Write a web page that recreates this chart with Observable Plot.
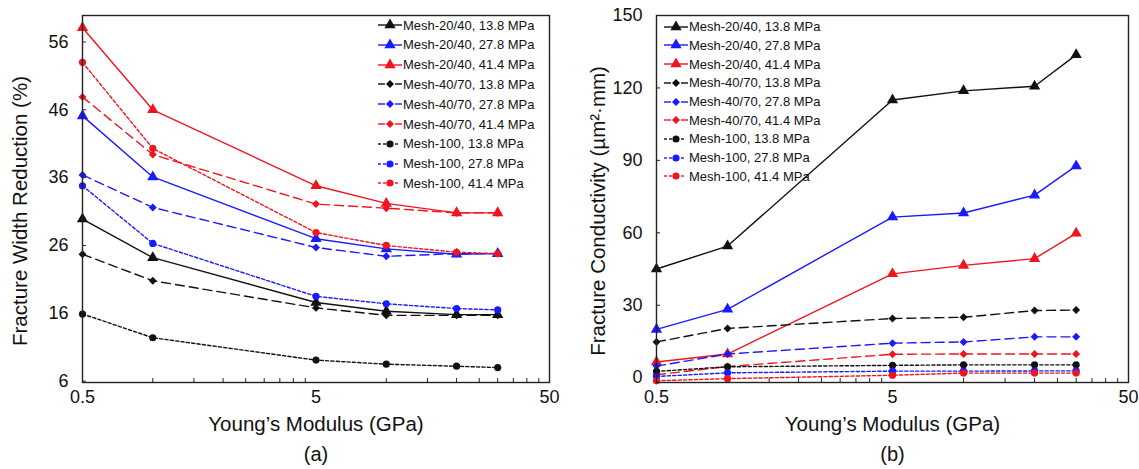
<!DOCTYPE html>
<html><head><meta charset="utf-8">
<script src="https://cdn.jsdelivr.net/npm/d3@7"></script>
<script src="https://cdn.jsdelivr.net/npm/@observablehq/plot@0.6"></script>
<style>
body{margin:0;background:#fff;font-family:"Liberation Sans",Arial,sans-serif;}
#wrap{position:relative;width:1139px;height:469px;overflow:hidden;background:#fff;}
.panel{position:absolute;top:0;}
.legend{position:absolute;top:0;font-size:13px;color:#111;font-family:"Liberation Sans",Arial,sans-serif;}
.legend .row{position:absolute;left:0;white-space:nowrap;display:flex;align-items:center;height:16px;transform:translateY(-50%);}
.legend svg{display:block;overflow:visible;}
</style></head><body><div id="wrap"></div>
<script>
// ---- data ----
const modulus = [0.5, 1, 5, 10, 20, 30]; // GPa
const seriesLabels = [
  "Mesh-20/40, 13.8 MPa", "Mesh-20/40, 27.8 MPa", "Mesh-20/40, 41.4 MPa",
  "Mesh-40/70, 13.8 MPa", "Mesh-40/70, 27.8 MPa", "Mesh-40/70, 41.4 MPa",
  "Mesh-100, 13.8 MPa", "Mesh-100, 27.8 MPa", "Mesh-100, 41.4 MPa"
];
// (a) Fracture width reduction (%)
const width2040_138 = [29.9, 24.2, 17.6, 16.3, 15.8, 15.8];
const width2040_278 = [45.1, 36.1, 27.0, 25.5, 24.7, 24.8];
const width2040_414 = [58.1, 46.0, 34.8, 32.2, 30.8, 30.8];
const width4070_138 = [24.7, 20.8, 16.8, 15.7, 15.7, 15.7];
const width4070_278 = [36.4, 31.6, 25.7, 24.4, 24.8, 24.8];
const width4070_414 = [47.9, 39.4, 32.1, 31.5, 30.8, 30.8];
const width100_138 = [15.9, 12.4, 9.1, 8.5, 8.2, 8.0];
const width100_278 = [34.8, 26.3, 18.5, 17.4, 16.7, 16.5];
const width100_414 = [53.0, 40.3, 27.9, 26.0, 25.0, 24.8];
// (b) Fracture conductivity (µm²·mm)
const cond2040_138 = [45, 54.5, 115, 118.8, 120.7, 133.7];
const cond2040_278 = [20, 28.3, 66.5, 68.2, 75.6, 87.7];
const cond2040_414 = [6.5, 9.8, 43, 46.5, 49.3, 59.8];
const cond4070_138 = [14.8, 20.4, 24.5, 25, 27.8, 28];
const cond4070_278 = [4.8, 9.8, 14.3, 14.8, 16.9, 16.9];
const cond4070_414 = [1.2, 4.6, 9.7, 9.8, 9.8, 9.8];
const cond100_138 = [2.6, 4.5, 5.1, 5.3, 5.3, 5.3];
const cond100_278 = [0.5, 2.0, 2.7, 2.7, 2.8, 2.8];
const cond100_414 = [-1.3, -0.4, 1.0, 1.9, 1.9, 1.9];

const xTickLabels = [0.5, 5, 50];
const xMinorTicks = [1, 1.5, 2, 2.5, 3, 3.5, 4, 4.5, 10, 15, 20, 25, 30, 35, 40, 45];
const widthTicks = [6, 16, 26, 36, 46, 56];
const condTicks = [0, 30, 60, 90, 120, 150];

// ---- styles ----
const colors = ["#111111", "#1a1aff", "#f0141e"];
const dashes = [null, "9,5", "3.2,2.2"];
const symbols = ["triangle", "diamond2", "circle"];
const symbolR = [4.2, 3.6, 3.6];
const FONT = "'Liberation Sans', Arial, sans-serif";

const widthSeries = [width2040_138, width2040_278, width2040_414, width4070_138, width4070_278, width4070_414, width100_138, width100_278, width100_414];
const condSeries = [cond2040_138, cond2040_278, cond2040_414, cond4070_138, cond4070_278, cond4070_414, cond100_138, cond100_278, cond100_414];

const H = 469, TOP = 15, BOTTOM_Y = 382;

function makePanel({series, yDomain, yTicks, yLabel, caption, W, mLeft, mRight, yTitleDx}) {
  const plotW = W - mLeft - mRight, plotH = BOTTOM_Y - TOP;
  const marks = [];
  series.forEach((vals, i) => {
    const rows = modulus.map((m, k) => ({x: m, y: vals[k]}));
    const style = Math.floor(i / 3), c = colors[i % 3];
    marks.push(Plot.line(rows, {x: "x", y: "y", stroke: c, strokeWidth: 1.4, strokeDasharray: dashes[style] || undefined}));
    marks.push(Plot.dot(rows, {x: "x", y: "y", symbol: symbols[style], r: symbolR[style], fill: c, stroke: "none"}));
  });
  return Plot.plot({
    width: W, height: H,
    marginLeft: mLeft, marginRight: mRight, marginTop: TOP, marginBottom: H - BOTTOM_Y,
    x: {type: "log", domain: [0.5, 50], axis: null},
    y: {domain: yDomain, axis: null},
    style: {fontFamily: FONT, color: "#111", background: "transparent", overflow: "visible"},
    marks: [
      Plot.tickX(xMinorTicks, {x: d => d, insetTop: plotH - 4, stroke: "#222", strokeWidth: 1}),
      Plot.tickY(yTicks, {y: d => d, insetRight: plotW - 4, stroke: "#222", strokeWidth: 1}),
      Plot.text(xTickLabels, {x: d => d, frameAnchor: "bottom", text: d => `${d}`, dy: 20, fontSize: 18, fill: "#111"}),
      Plot.text(yTicks, {y: d => d, frameAnchor: "left", text: d => `${d}`, textAnchor: "end", dx: -14, fontSize: 18, fill: "#111"}),
      ...marks,
      Plot.frame({stroke: "#222", strokeWidth: 1.4}),
      Plot.text([yLabel], {frameAnchor: "left", text: d => d, rotate: -90, textAnchor: "middle", lineAnchor: "middle", dx: yTitleDx, dy: 12, fontSize: 20.5, fill: "#111"}),
      Plot.text(["Young\u2019s Modulus (GPa)"], {frameAnchor: "bottom", text: d => d, dy: 48, fontSize: 20.5, fill: "#111"}),
      Plot.text([caption], {frameAnchor: "bottom", text: d => d, dy: 78, fontSize: 20, fill: "#111"})
    ]
  });
}

function swatchSVG(i) {
  const style = Math.floor(i / 3), c = colors[i % 3];
  const ns = "http://www.w3.org/2000/svg";
  const svg = document.createElementNS(ns, "svg");
  svg.setAttribute("width", 24); svg.setAttribute("height", 12);
  const segs = style === 0 ? [[0, 24]] : style === 1 ? [[0, 7], [17, 24]] : [[0, 3], [5, 8], [17, 20]];
  segs.forEach(([a, b]) => {
    const l = document.createElementNS(ns, "line");
    l.setAttribute("x1", a); l.setAttribute("x2", b); l.setAttribute("y1", 6); l.setAttribute("y2", 6);
    l.setAttribute("stroke", c); l.setAttribute("stroke-width", 1.4);
    svg.appendChild(l);
  });
  const p = document.createElementNS(ns, "path");
  const sym = style === 0 ? d3.symbolTriangle : style === 1 ? d3.symbolDiamond2 : d3.symbolCircle;
  const r = symbolR[style];
  p.setAttribute("d", d3.symbol(sym, Math.PI * r * r)());
  p.setAttribute("transform", "translate(12,6)");
  p.setAttribute("fill", c);
  svg.appendChild(p);
  return svg;
}

function makeLegend(left, firstY, step) {
  const div = document.createElement("div");
  div.className = "legend";
  div.style.left = left + "px";
  seriesLabels.forEach((lab, i) => {
    const row = document.createElement("div");
    row.className = "row";
    row.style.top = (firstY + step * i) + "px";
    row.appendChild(swatchSVG(i));
    const span = document.createElement("span");
    span.textContent = lab;
    span.style.marginLeft = "1px";
    row.appendChild(span);
    div.appendChild(row);
  });
  return div;
}

const wrap = document.getElementById("wrap");
const pa = makePanel({series: widthSeries, yDomain: [5.8, 59.9], yTicks: widthTicks,
  yLabel: "Fracture Width Reduction (%)", caption: "(a)", W: 570, mLeft: 82, mRight: 21, yTitleDx: -62});
pa.classList.add("panel"); pa.style.left = "0px";
wrap.appendChild(pa);
const pb = makePanel({series: condSeries, yDomain: [-2, 150], yTicks: condTicks,
  yLabel: "Fracture Conductivity (\u00b5m\u00b2\u00b7mm)", caption: "(b)", W: 569, mLeft: 86, mRight: 11, yTitleDx: -58});
pb.classList.add("panel"); pb.style.left = "570px";
wrap.appendChild(pb);
wrap.appendChild(makeLegend(378, 25, 19.8));
wrap.appendChild(makeLegend(664, 26.7, 18.7));
</script></body></html>
